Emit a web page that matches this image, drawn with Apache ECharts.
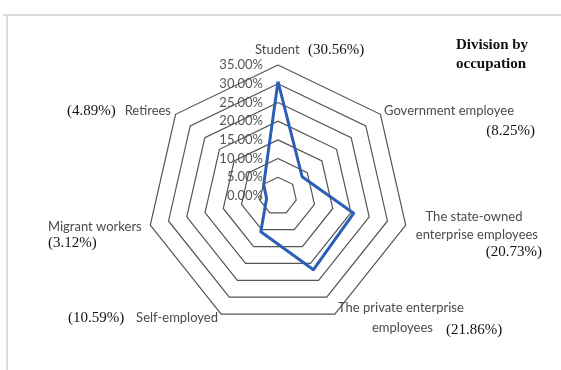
<!DOCTYPE html>
<html>
<head>
<meta charset="utf-8">
<script src="https://cdn.jsdelivr.net/npm/echarts@6/dist/echarts.min.js"></script>
<style>
html,body{margin:0;padding:0;background:#fff;}
#chart{width:561px;height:370px;}
</style>
</head>
<body>
<div id="chart"></div>
<script>
// ---- data ----
const categories = ['Student', 'Government employee', 'The state-owned\nenterprise employees', 'The private enterprise\nemployees', 'Self-employed', 'Migrant workers', 'Retirees'];
const shares = [30.56, 8.25, 20.73, 21.86, 10.59, 3.12, 4.89];
const tickValues = [0, 5, 10, 15, 20, 25, 30, 35];
const chartTitle = ['Division by', 'occupation'];

// ---- build ----
const pct = v => '(' + v.toFixed(2) + '%)';
const axisMax = tickValues[tickValues.length - 1];
const axisInterval = tickValues[1] - tickValues[0];
// ECharts radar runs counter-clockwise; the figure runs clockwise from the top
const order = [0].concat(categories.map((_, i) => i).slice(1).reverse());

const SANS = '13px Lato';
const SERIF = '15px "Liberation Serif"';
const sansColor = '#4a4a4a';
const serifColor = '#111';

function txt(text, x, y, font, fill, align) {
  return { type: 'text', x: x, y: y, silent: true,
    style: { text: text, font: font, fill: fill, align: align || 'left', verticalAlign: 'middle' } };
}
const lines = i => categories[i].split('\n');

const graphic = [
  { type: 'line', shape: { x1: 3, y1: 15, x2: 561, y2: 15 }, style: { stroke: '#dcdcdc', lineWidth: 2 } },
  { type: 'line', shape: { x1: 7, y1: 15, x2: 7, y2: 370 }, style: { stroke: '#dcdcdc', lineWidth: 2 } },
  txt(chartTitle[0], 456, 45, 'bold 15px "Liberation Serif"', '#111'),
  txt(chartTitle[1], 456, 64, 'bold 15px "Liberation Serif"', '#111'),
  // Student
  txt(lines(0)[0], 255, 50, SANS, sansColor),
  txt(pct(shares[0]), 308, 50, SERIF, serifColor),
  // Government
  txt(lines(1)[0], 384, 111, SANS, sansColor),
  txt(pct(shares[1]), 535, 131, SERIF, serifColor, 'right'),
  // State-owned
  txt(lines(2)[0], 474, 217, SANS, sansColor, 'center'),
  txt(lines(2)[1], 538, 235, SANS, sansColor, 'right'),
  txt(pct(shares[2]), 542, 252, SERIF, serifColor, 'right'),
  // Private
  txt(lines(3)[0], 338, 308, SANS, sansColor),
  txt(lines(3)[1], 372, 328, SANS, sansColor),
  txt(pct(shares[3]), 446, 330, SERIF, serifColor),
  // Self-employed
  txt(pct(shares[4]), 68, 318, SERIF, serifColor),
  txt(lines(4)[0], 218, 318, SANS, sansColor, 'right'),
  // Migrant
  txt(lines(5)[0], 48, 227, SANS, sansColor),
  txt(pct(shares[5]), 48, 243, SERIF, serifColor),
  // Retirees
  txt(pct(shares[6]), 67, 111, SERIF, serifColor),
  txt(lines(6)[0], 171, 111, SANS, sansColor, 'right')
];

const indicator = order.map(i => {
  const ind = { name: categories[i], min: 0, max: axisMax, interval: axisInterval };
  if (i === 0) {
    ind.axisLabel = {
      show: true, margin: 15, color: '#555', fontFamily: 'Lato', fontSize: 13,
      formatter: v => Number(v).toFixed(2) + '%'
    };
  }
  return ind;
});

const chart = echarts.init(document.getElementById('chart'), null, { renderer: 'canvas' });
chart.setOption({
  animation: false,
  backgroundColor: '#fff',
  radar: {
    center: [278, 196],
    radius: 131,
    startAngle: 90,
    shape: 'polygon',
    splitNumber: tickValues.length - 1,
    axisName: { show: false },
    axisLine: { show: false },
    axisTick: { show: false },
    axisLabel: { show: false },
    splitLine: { lineStyle: { color: '#555', width: 1.2 } },
    splitArea: { show: false },
    indicator: indicator
  },
  series: [{
    type: 'radar',
    symbol: 'none',
    lineStyle: { color: '#2b5fb6', width: 3 },
    itemStyle: { color: '#2b5fb6' },
    data: [{ value: order.map(i => shares[i]), name: 'Share' }]
  }],
  graphic: graphic
});
</script>
</body>
</html>
